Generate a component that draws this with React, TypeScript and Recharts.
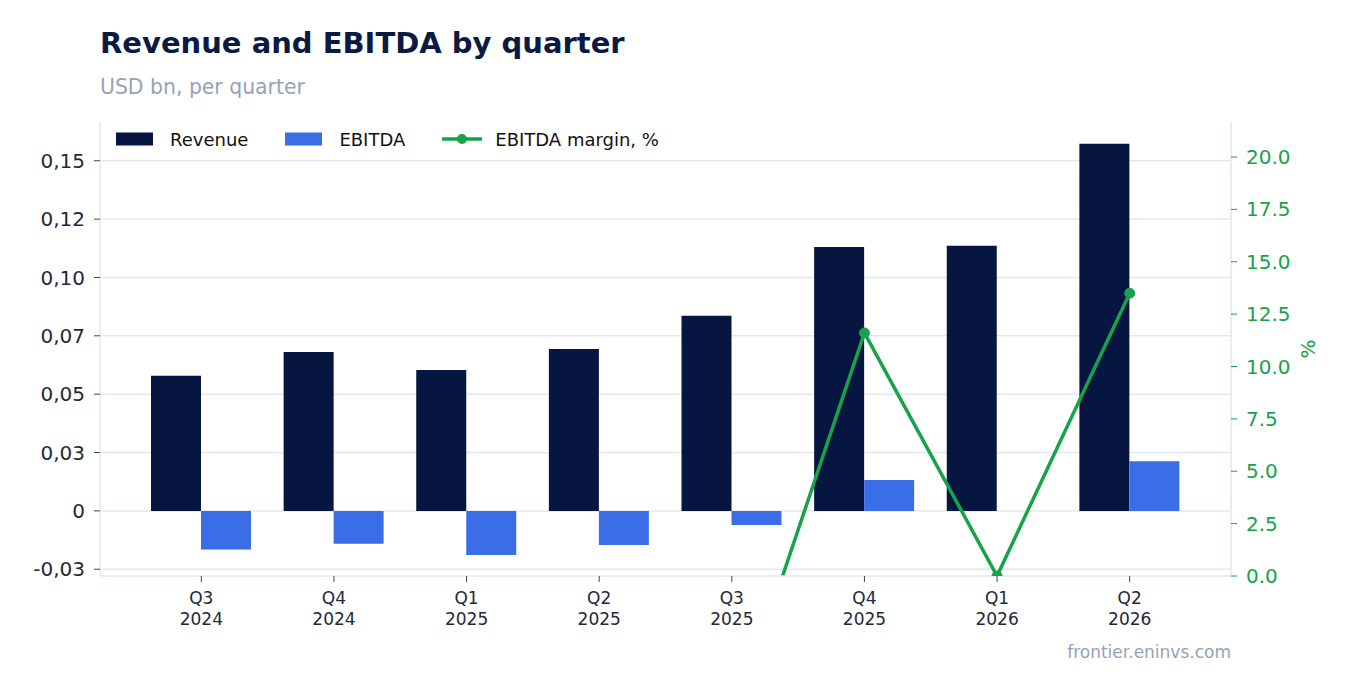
import {
  ComposedChart,
  Bar,
  Line,
  XAxis,
  YAxis,
  CartesianGrid,
  Legend,
} from "recharts";

const quarters = ["Q3 2024", "Q4 2024", "Q1 2025", "Q2 2025", "Q3 2025", "Q4 2025", "Q1 2026", "Q2 2026"];
const revenue = [0.0579, 0.0681, 0.0604, 0.0694, 0.0836, 0.1131, 0.1136, 0.1573];
const ebitda = [-0.0166, -0.0141, -0.0189, -0.0146, -0.006, 0.0132, 0, 0.0213];
const ebitdaMargin = [-28.7, -20.7, -31.3, -21.0, -7.2, 11.6, 0, 13.5];

const leftTicks = [-0.025, 0, 0.025, 0.05, 0.075, 0.1, 0.125, 0.15];
const leftTickLabels = ["-0,03", "0", "0,03", "0,05", "0,07", "0,10", "0,12", "0,15"];
const rightTicks = [0, 2.5, 5, 7.5, 10, 12.5, 15, 17.5, 20];

const NAVY = "#061641";
const BLUE = "#3b6de6";
const GREEN = "#16a34a";
const AXIS = "#e2e8f0";
const TEXT = "#1e293b";
const MUTED = "#94a3b8";
const FONT = "'DejaVu Sans', sans-serif";

const data = quarters.map((q, i) => ({
  quarter: q,
  revenue: revenue[i],
  ebitda: ebitda[i],
  margin: ebitdaMargin[i],
}));

function QuarterTick({ x, y, payload }: any) {
  const [q, yr] = String(payload.value).split(" ");
  return (
    <g transform={`translate(${x},${y})`}>
      <text textAnchor="middle" fill={TEXT} fontSize={17} fontFamily={FONT}>
        <tspan x={0} dy={20}>{q}</tspan>
        <tspan x={0} dy={21}>{yr}</tspan>
      </text>
    </g>
  );
}

function ChartLegend() {
  const items = [
    { name: "Revenue", color: NAVY, line: false },
    { name: "EBITDA", color: BLUE, line: false },
    { name: "EBITDA margin, %", color: GREEN, line: true },
  ];
  return (
    <div style={{ display: "flex", alignItems: "center", gap: 37, fontFamily: FONT, fontSize: 18, color: "#111" }}>
      {items.map((it) => (
        <div key={it.name} style={{ display: "flex", alignItems: "center", gap: it.line ? 13 : 17 }}>
          {it.line ? (
            <svg width={40} height={22}>
              <line x1={0} y1={11} x2={40} y2={11} stroke={it.color} strokeWidth={3.5} />
              <circle cx={20} cy={11} r={5} fill={it.color} />
            </svg>
          ) : (
            <svg width={37} height={22}>
              <rect x={0} y={4.5} width={37} height={13} fill={it.color} />
            </svg>
          )}
          <span style={{ whiteSpace: "nowrap" }}>{it.name}</span>
        </div>
      ))}
    </div>
  );
}

function PercentLabel({ viewBox }: any) {
  const cx = viewBox.x + viewBox.width - 13;
  const cy = viewBox.y + viewBox.height / 2;
  return (
    <text
      x={cx}
      y={cy}
      transform={`rotate(-90 ${cx} ${cy})`}
      textAnchor="middle"
      dominantBaseline="central"
      fill={GREEN}
      fontSize={20}
      fontFamily={FONT}
    >
      %
    </text>
  );
}

export default function App() {
  return (
    <div
      style={{
        position: "absolute",
        top: 0,
        left: 0,
        width: 1351,
        height: 693,
        background: "#fff",
        fontFamily: FONT,
      }}
    >
      <div style={{ position: "absolute", left: 100, top: 29, fontSize: 29, lineHeight: 1, fontWeight: 700, color: "#0b1a42" }}>
        Revenue and EBITDA by quarter
      </div>
      <div style={{ position: "absolute", left: 100, top: 77, fontSize: 20.4, lineHeight: 1, color: MUTED }}>
        USD bn, per quarter
      </div>

      <ComposedChart
        width={1351}
        height={693}
        data={data}
        margin={{ top: 122, right: 30, bottom: 57, left: 0 }}
        barGap={0}
        style={{ position: "absolute", top: 0, left: 0 }}
      >
        <CartesianGrid
          yAxisId="left"
          vertical={false}
          stroke={AXIS}
          strokeWidth={1.5}
          syncWithTicks
        />
        <XAxis
          dataKey="quarter"
          height={60}
          padding={{ left: 35, right: 35 }}
          tick={<QuarterTick />}
          tickSize={6}
          tickMargin={2}
          axisLine={{ stroke: AXIS, strokeWidth: 1.5 }}
          tickLine={{ stroke: "#444" }}
          interval={0}
        />
        <YAxis
          yAxisId="left"
          width={100}
          domain={[-0.0279, 0.1666]}
          allowDataOverflow
          ticks={leftTicks}
          tickFormatter={(v: number) => leftTickLabels[leftTicks.indexOf(v)] ?? String(v)}
          tick={{ fill: TEXT, fontSize: 20, fontFamily: FONT }}
          tickSize={6}
          tickMargin={9}
          axisLine={{ stroke: AXIS, strokeWidth: 1.5 }}
          tickLine={{ stroke: "#444" }}
        />
        <YAxis
          yAxisId="right"
          orientation="right"
          width={90}
          domain={[0, 21.67]}
          allowDataOverflow
          ticks={rightTicks}
          tickFormatter={(v: number) => v.toFixed(1)}
          tick={{ fill: GREEN, fontSize: 20, fontFamily: FONT }}
          tickSize={6}
          tickMargin={9}
          axisLine={{ stroke: AXIS, strokeWidth: 1.5 }}
          tickLine={{ stroke: GREEN }}
          label={<PercentLabel />}
        />
        <Legend
          content={<ChartLegend />}
          verticalAlign="middle"
          align="center"
          layout="horizontal"
          wrapperStyle={{ top: 128, left: 116, width: "auto", height: "auto" }}
        />
        <Bar yAxisId="left" dataKey="revenue" name="Revenue" fill={NAVY} barSize={50} isAnimationActive={false} />
        <Bar yAxisId="left" dataKey="ebitda" name="EBITDA" fill={BLUE} barSize={50} isAnimationActive={false} />
        <Line
          yAxisId="right"
          dataKey="margin"
          name="EBITDA margin, %"
          type="linear"
          stroke={GREEN}
          strokeWidth={3.5}
          dot={{ r: 5, fill: GREEN, stroke: GREEN, strokeWidth: 1 }}
          activeDot={false}
          isAnimationActive={false}
        />
      </ComposedChart>

      <div style={{ position: "absolute", right: 120, top: 644, fontSize: 17, lineHeight: 1, color: MUTED }}>
        frontier.eninvs.com
      </div>
    </div>
  );
}
